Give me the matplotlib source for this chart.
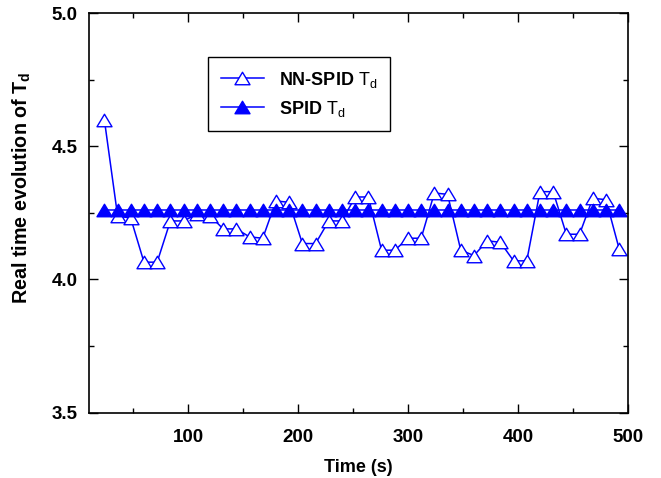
import matplotlib
matplotlib.use('Agg')
import matplotlib.pyplot as plt
from matplotlib.ticker import MultipleLocator
from matplotlib.path import Path

plt.rcParams['font.family'] = ['Liberation Sans', 'DejaVu Sans']
plt.rcParams['mathtext.fontset'] = 'custom'
plt.rcParams['mathtext.rm'] = 'Liberation Sans'
plt.rcParams['mathtext.bf'] = 'Liberation Sans:bold'

# time stamps (s)
time_s = [24, 36, 48, 60, 72, 84, 96, 108, 120, 132,
          144, 156, 168, 180, 192, 204, 216, 228, 240, 252,
          264, 276, 288, 300, 312, 324, 336, 348, 360, 372,
          384, 396, 408, 420, 432, 444, 456, 468, 480, 492]

# NN-SPID Td
nn_spid_td = [4.60, 4.24, 4.23, 4.065, 4.065, 4.22, 4.22, 4.245, 4.24, 4.19,
              4.19, 4.16, 4.155, 4.295, 4.29, 4.135, 4.135, 4.22, 4.22, 4.31,
              4.31, 4.11, 4.11, 4.155, 4.155, 4.325, 4.32, 4.11, 4.09, 4.145,
              4.14, 4.07, 4.07, 4.33, 4.33, 4.17, 4.17, 4.305, 4.30, 4.115]

# SPID Td (constant)
spid_td = [4.26, 4.26, 4.26, 4.26, 4.26, 4.26, 4.26, 4.26, 4.26, 4.26,
           4.26, 4.26, 4.26, 4.26, 4.26, 4.26, 4.26, 4.26, 4.26, 4.26,
           4.26, 4.26, 4.26, 4.26, 4.26, 4.26, 4.26, 4.26, 4.26, 4.26,
           4.26, 4.26, 4.26, 4.26, 4.26, 4.26, 4.26, 4.26, 4.26, 4.26]

x_ticks = [100, 200, 300, 400, 500]
y_ticks = [3.5, 4.0, 4.5, 5.0]

# slightly wide triangle, like the origin-style marker
tri = Path([(0, 1), (-1.2, -1), (1.2, -1), (0, 1)],
           [Path.MOVETO, Path.LINETO, Path.LINETO, Path.CLOSEPOLY])

fig = plt.figure(figsize=(6.61, 4.78), dpi=100)
ax = fig.add_axes([0.1346, 0.137, 0.8154, 0.835])

ax.plot(time_s, nn_spid_td, color='#0000ff', lw=1.1, marker=tri, ms=10.8,
        mfc='white', mec='#0000ff', mew=1.0, label=r'NN-SPID $\mathrm{T}_{\mathrm{d}}$')
ax.plot(time_s, spid_td, color='#0000ff', lw=1.1, marker=tri, ms=10.8,
        mfc='#0000ff', mec='#0000ff', mew=1.0, label=r'SPID $\mathrm{T}_{\mathrm{d}}$')

ax.set_xlim(10, 500)
ax.set_ylim(3.5, 5.0)
ax.set_xticks(x_ticks)
ax.set_yticks(y_ticks)
ax.set_yticklabels(['%.1f' % v for v in y_ticks])
ax.xaxis.set_minor_locator(MultipleLocator(50))
ax.yaxis.set_minor_locator(MultipleLocator(0.25))
ax.tick_params(which='both', direction='in', top=True, right=True, width=1.0)
ax.tick_params(which='major', length=6.5, labelsize=13.5)
ax.tick_params(which='minor', length=3.6)
ax.tick_params(axis='x', which='major', pad=12)
ax.tick_params(axis='y', which='major', pad=8)
for lab in ax.get_xticklabels() + ax.get_yticklabels():
    lab.set_fontweight('bold')
for sp in ax.spines.values():
    sp.set_linewidth(1.2)

ax.set_xlabel('Time (s)', fontsize=13, fontweight='bold', labelpad=9)
ax.set_ylabel(r'Real time evolution of $\mathbf{T}_{\mathbf{d}}$', fontsize=14.2,
              fontweight='bold')
ax.yaxis.set_label_coords(-0.104, 0.564)

leg = ax.legend(loc='upper left', bbox_to_anchor=(0.221, 0.891), borderaxespad=0,
                fancybox=False, edgecolor='black', framealpha=1, handlelength=2.4,
                prop={'weight': 'bold', 'size': 13}, borderpad=0.7, labelspacing=0.5)
leg.get_frame().set_linewidth(1.0)

fig.savefig('out.png', dpi=100)
